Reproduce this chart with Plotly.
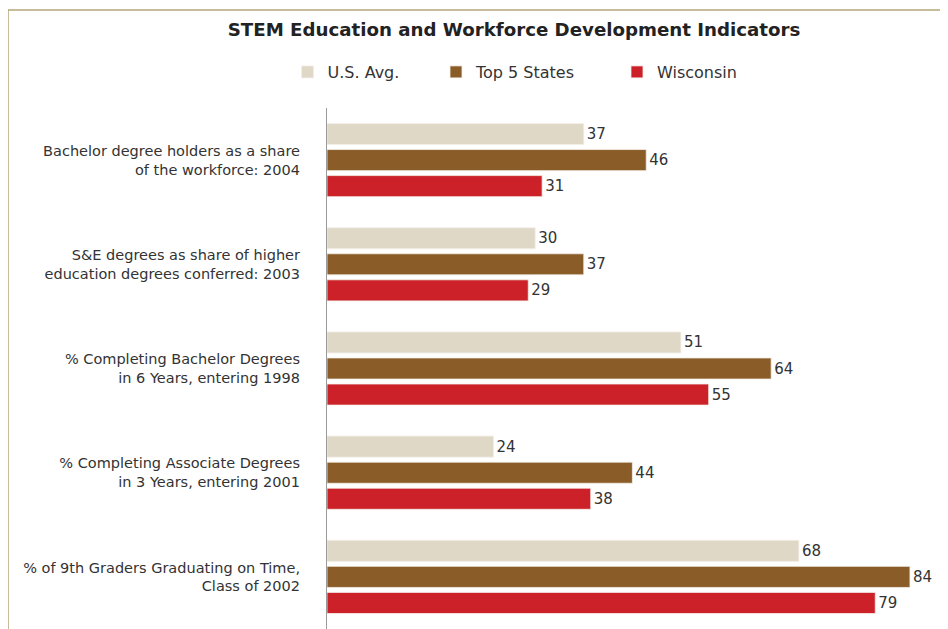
import plotly.graph_objects as go

categories = [
    "Bachelor degree holders as a share<br>of the workforce: 2004",
    "S&E degrees as share of higher<br>education degrees conferred: 2003",
    "% Completing Bachelor Degrees<br>in 6 Years, entering 1998",
    "% Completing Associate Degrees<br>in 3 Years, entering 2001",
    "% of 9th Graders Graduating on Time,<br>Class of 2002",
]
series_names = ["U.S. Avg.", "Top 5 States", "Wisconsin"]
us_avg = [37, 30, 51, 24, 68]
top5 = [46, 37, 64, 44, 84]
wisconsin = [31, 29, 55, 38, 79]
colors = ["#e0d8c7", "#8a5c28", "#cc2128"]

# the page places the figure 8px in from the top-left corner
OFF = 8
W, H = 948 - OFF, 629 - OFF
L, R, T, B = 327 - OFF, 0, 108 - OFF, 0
pw = W - L - R
ph = H - T - B

font = "DejaVu Sans"
fig = go.Figure()
legend_ids = ["legend", "legend2", "legend3"]
for name, vals, col, lg in zip(series_names, [us_avg, top5, wisconsin], colors, legend_ids):
    fig.add_trace(go.Bar(
        y=categories, x=vals, name=name, orientation="h",
        marker=dict(color=col, line=dict(width=0.8, color="#f4f0ea")),
        text=vals, textposition="outside", cliponaxis=False,
        textfont=dict(family=font, size=15, color="#333333"),
        legend=lg,
    ))

def px_x(p):  # reference page pixel -> paper
    return (p - OFF - L) / pw

def px_y(p):
    return (H - B - (p - OFF)) / ph

leg_common = dict(orientation="h", yanchor="middle", xanchor="left",
                  font=dict(family=font, size=16, color="#333333"),
                  bgcolor="rgba(0,0,0,0)", borderwidth=0)
legend_sym_x = [312, 459, 642]
legend_text_x = [322, 472, 651]
layout_legends = {}
for lg, sx, tx in zip(legend_ids, legend_sym_x, legend_text_x):
    start = (sx + tx) / 2 - 29.5
    layout_legends[lg] = dict(x=px_x(start), y=px_y(72), **leg_common)

fig.update_layout(
    width=W, height=H,
    margin=dict(l=L, r=R, t=T, b=B, autoexpand=False),
    paper_bgcolor="white", plot_bgcolor="white",
    barmode="group", bargap=0.25, bargroupgap=0.19,
    title=dict(text="<b>STEM Education and Workforce Development Indicators</b>",
               x=(514 - OFF) / W, xanchor="center", y=1 - (30 - OFF) / H, yanchor="middle",
               font=dict(family=font, size=18.2, color="#222222")),
    xaxis=dict(range=[0, pw / 6.94], showgrid=False, zeroline=False,
               showticklabels=False, showline=False, ticks=""),
    yaxis=dict(autorange="reversed", showgrid=False, zeroline=False,
               showline=True, linecolor="#9a9a9a", linewidth=1.2,
               ticks="", ticklabelstandoff=23,
               tickfont=dict(family=font, size=14.5, color="#333333")),
    showlegend=True,
    **layout_legends,
)

# outer frame (gold border, top and left visible)
fig.add_shape(type="rect", xref="paper", yref="paper",
              x0=px_x(8), x1=px_x(970), y0=px_y(10), y1=px_y(660),
              line=dict(color="#b5a678", width=1.5), layer="below")

fig.write_html("out.html")
